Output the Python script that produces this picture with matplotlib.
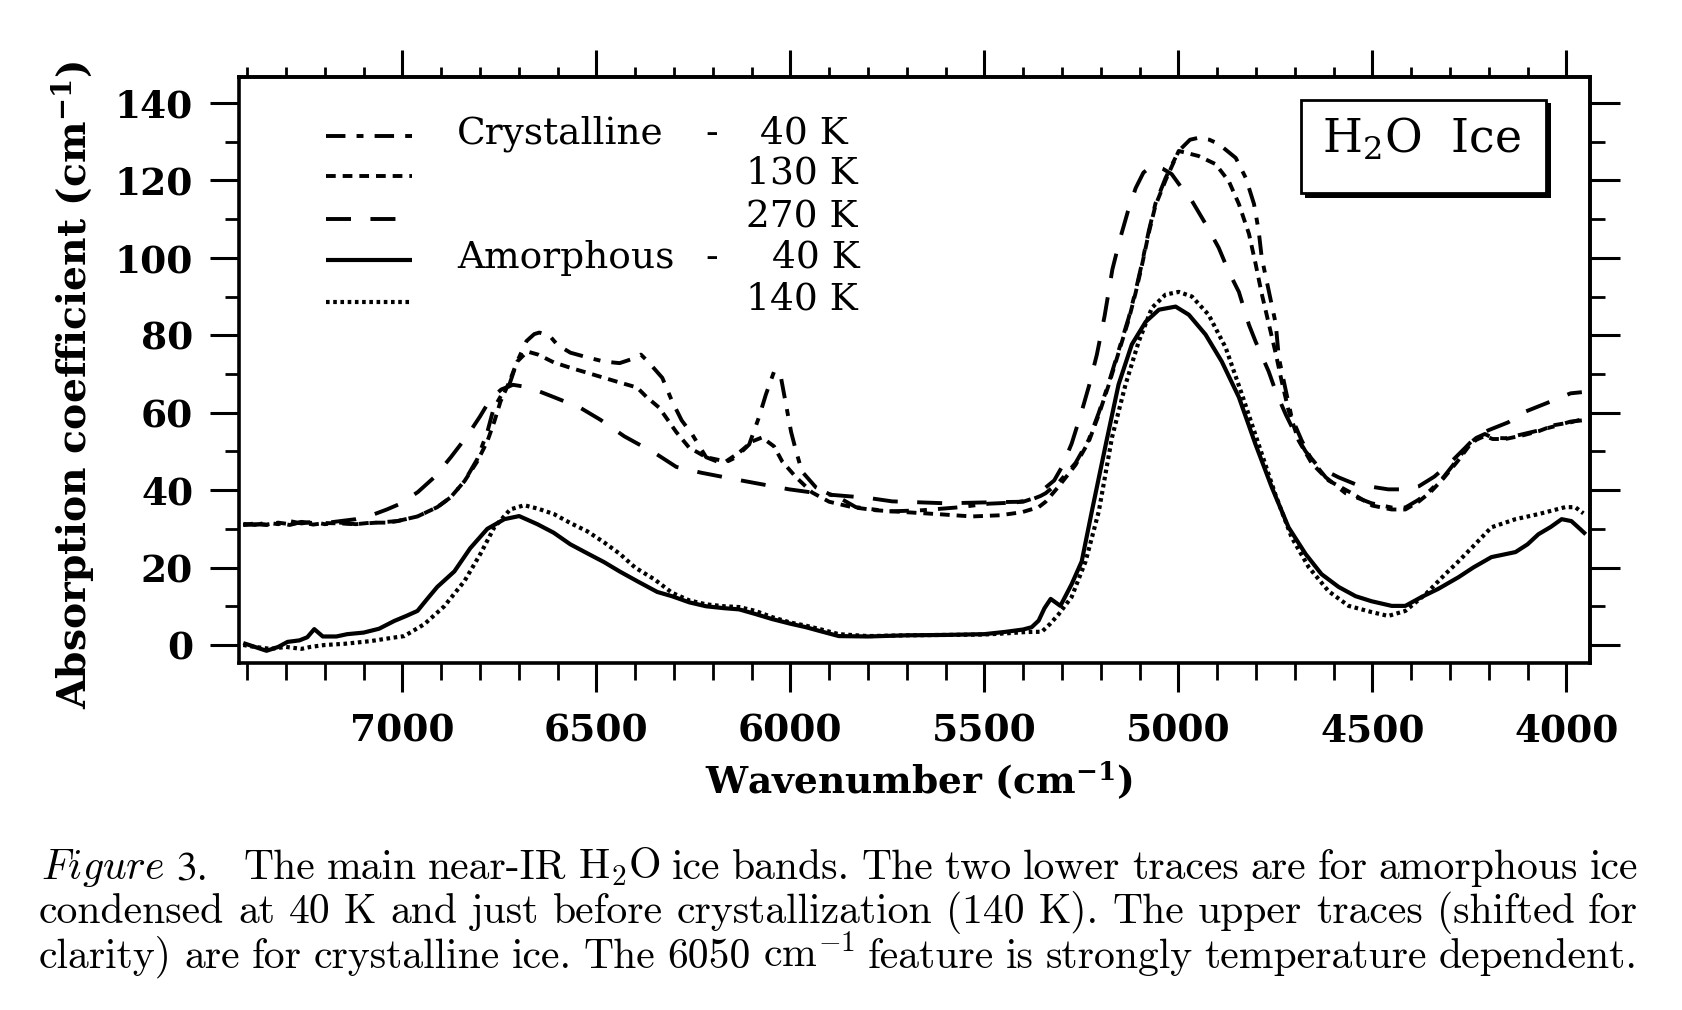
import numpy as np
import matplotlib
matplotlib.use('Agg')
import matplotlib.pyplot as plt
from matplotlib.lines import Line2D
from matplotlib.patches import Rectangle
from matplotlib.ticker import NullFormatter, FixedLocator

plt.rcParams['lines.scale_dashes'] = False

# ---------------- data ----------------
wn_c40 = [7410, 7380, 7350, 7320, 7290, 7260, 7230, 7200, 7160, 7120, 7080, 7040, 7013, 6961, 6910, 6876, 6840, 6807, 6781, 6765, 6745, 6725, 6705, 6680, 6660, 6647, 6620, 6600, 6567, 6520, 6480, 6440, 6410, 6385, 6365, 6330, 6305, 6280, 6253, 6217, 6184, 6160, 6140, 6106, 6081, 6063, 6042, 6024, 6011, 5998, 5985, 5970, 5934, 5900, 5875, 5831, 5746, 5661, 5573, 5488, 5420, 5380, 5355, 5342, 5308, 5265, 5231, 5205, 5180, 5154, 5128, 5110, 5094, 5076, 5059, 5033, 4999, 4970, 4948, 4920, 4896, 4852, 4826, 4805, 4793, 4785, 4767, 4749, 4741, 4723, 4708, 4682, 4656, 4620, 4569, 4502, 4450, 4415, 4381, 4350, 4317, 4280, 4250, 4232, 4210, 4190, 4157, 4110, 4072, 4030, 3989, 3960]
ab_c40 = [31.3, 31.0, 31.6, 31.2, 32.0, 31.4, 31.8, 31.2, 31.6, 31.2, 31.5, 31.8, 32.0, 33.2, 35.6, 38.1, 42.3, 48.0, 55.0, 61.0, 64.5, 67.0, 73.0, 78.5, 80.3, 80.7, 79.8, 77.5, 75.5, 74.2, 73.2, 72.8, 73.8, 75.0, 73.0, 69.0, 63.0, 58.0, 54.4, 48.5, 47.2, 47.5, 48.5, 51.8, 58.8, 64.7, 70.6, 69.0, 62.0, 55.0, 50.0, 44.8, 40.7, 39.0, 38.1, 35.6, 34.5, 34.8, 35.5, 36.5, 36.8, 37.5, 38.5, 39.2, 42.0, 47.0, 53.0, 60.0, 67.5, 76.0, 84.5, 91.5, 98.5, 107.0, 114.0, 120.6, 127.6, 130.5, 131.0, 130.5, 129.4, 125.8, 120.6, 113.9, 107.0, 100.0, 91.5, 83.0, 74.2, 65.7, 58.8, 52.8, 47.7, 43.3, 39.2, 36.6, 35.5, 35.5, 37.5, 40.0, 43.3, 48.0, 52.0, 53.5, 54.5, 53.5, 53.4, 54.5, 55.4, 56.5, 57.7, 58.0]

wn_c130 = [7410, 7380, 7350, 7320, 7290, 7260, 7230, 7200, 7160, 7120, 7080, 7040, 7013, 6961, 6910, 6876, 6840, 6807, 6781, 6763, 6747, 6724, 6704, 6678, 6650, 6610, 6567, 6520, 6480, 6440, 6395, 6370, 6338, 6294, 6261, 6217, 6166, 6132, 6098, 6073, 6042, 6021, 5985, 5944, 5900, 5841, 5780, 5702, 5620, 5532, 5460, 5403, 5360, 5342, 5308, 5265, 5231, 5205, 5180, 5154, 5128, 5110, 5094, 5076, 5059, 5033, 4999, 4948, 4904, 4870, 4844, 4818, 4801, 4785, 4767, 4749, 4734, 4716, 4690, 4656, 4613, 4553, 4500, 4450, 4415, 4381, 4350, 4317, 4280, 4250, 4232, 4210, 4190, 4157, 4110, 4072, 4030, 3989, 3960]
ab_c130 = [31.0, 31.4, 31.1, 31.6, 31.2, 31.7, 31.1, 31.5, 31.4, 31.2, 31.6, 31.6, 32.0, 33.2, 35.6, 38.1, 42.3, 47.4, 52.6, 57.7, 62.9, 68.0, 73.2, 75.8, 75.0, 73.0, 71.6, 70.2, 69.0, 67.8, 66.5, 64.0, 61.3, 55.0, 51.0, 48.5, 47.4, 49.7, 52.6, 53.6, 51.3, 47.4, 43.3, 39.4, 37.0, 35.6, 34.8, 34.3, 33.8, 33.2, 33.5, 34.3, 35.6, 37.0, 41.0, 46.5, 52.5, 59.5, 67.0, 75.5, 84.0, 91.0, 98.0, 106.5, 113.5, 120.0, 127.6, 126.3, 124.2, 119.8, 113.9, 106.2, 98.5, 90.7, 83.0, 75.3, 68.3, 60.6, 52.8, 46.9, 42.5, 39.2, 36.0, 35.0, 35.0, 37.0, 39.5, 43.0, 47.5, 51.5, 53.0, 54.0, 53.2, 53.2, 54.2, 55.2, 56.8, 57.5, 58.3]

wn_c270 = [7410, 7380, 7350, 7320, 7290, 7260, 7230, 7200, 7160, 7120, 7080, 7040, 7005, 6960, 6918, 6875, 6833, 6800, 6773, 6745, 6715, 6690, 6660, 6609, 6542, 6490, 6428, 6390, 6351, 6294, 6230, 6127, 6003, 5908, 5800, 5738, 5599, 5465, 5400, 5370, 5350, 5320, 5300, 5275, 5250, 5230, 5210, 5190, 5170, 5150, 5130, 5110, 5090, 5065, 5040, 5017, 4991, 4965, 4930, 4896, 4870, 4844, 4818, 4801, 4767, 4749, 4723, 4698, 4672, 4638, 4587, 4543, 4459, 4415, 4380, 4340, 4300, 4260, 4232, 4200, 4150, 4105, 4050, 3989, 3960]
ab_c270 = [31.0, 31.2, 31.0, 31.5, 31.0, 31.8, 31.5, 31.5, 32.0, 32.5, 33.5, 35.0, 36.5, 39.5, 43.3, 48.5, 54.0, 59.0, 63.5, 66.0, 67.2, 66.8, 66.0, 64.0, 61.3, 58.2, 53.9, 51.8, 49.7, 46.0, 44.5, 42.5, 40.2, 38.9, 38.0, 37.1, 36.6, 36.9, 37.0, 38.0, 40.0, 42.5, 46.0, 52.0, 60.0, 67.0, 75.0, 85.0, 97.0, 105.0, 112.0, 118.0, 122.0, 124.0, 123.0, 121.6, 118.0, 114.7, 108.8, 102.6, 96.4, 91.2, 82.7, 78.4, 70.6, 65.5, 59.5, 54.4, 50.0, 45.9, 43.3, 41.5, 40.2, 40.2, 41.0, 43.5, 47.0, 51.0, 53.9, 55.5, 57.5, 60.3, 62.5, 65.0, 65.3]

wn_a40 = [7410, 7380, 7350, 7320, 7296, 7265, 7245, 7227, 7205, 7170, 7142, 7100, 7060, 7021, 6990, 6961, 6935, 6910, 6866, 6825, 6781, 6737, 6699, 6652, 6610, 6567, 6520, 6480, 6440, 6395, 6343, 6305, 6260, 6217, 6170, 6132, 6090, 6047, 6000, 5960, 5920, 5875, 5800, 5700, 5600, 5500, 5445, 5400, 5378, 5360, 5345, 5329, 5304, 5275, 5249, 5223, 5187, 5154, 5120, 5084, 5050, 5007, 4973, 4930, 4888, 4844, 4801, 4759, 4716, 4672, 4631, 4587, 4543, 4502, 4450, 4415, 4373, 4330, 4278, 4240, 4193, 4131, 4100, 4072, 4040, 4012, 3987, 3965, 3950]
ab_a40 = [0.5, -0.5, -1.5, -0.5, 0.8, 1.2, 2.0, 4.1, 2.2, 2.2, 2.8, 3.2, 4.2, 6.2, 7.5, 8.8, 12.0, 15.0, 19.0, 25.0, 30.0, 32.5, 33.3, 31.2, 29.0, 26.0, 23.5, 21.4, 19.0, 16.5, 13.7, 12.6, 11.0, 10.0, 9.5, 9.2, 8.0, 6.7, 5.5, 4.6, 3.5, 2.3, 2.2, 2.5, 2.6, 2.8, 3.4, 4.0, 4.6, 6.3, 9.5, 11.9, 10.1, 15.7, 21.6, 34.5, 51.8, 67.3, 77.6, 83.5, 86.6, 87.4, 85.3, 80.2, 73.2, 64.0, 51.8, 40.7, 30.4, 23.5, 18.3, 15.0, 12.6, 11.3, 10.1, 10.1, 12.4, 14.5, 17.5, 20.0, 22.7, 24.0, 26.0, 28.6, 30.5, 32.5, 32.0, 30.0, 28.6]

wn_a140 = [7410, 7380, 7340, 7300, 7260, 7237, 7200, 7150, 7082, 7030, 6995, 6943, 6892, 6840, 6799, 6763, 6722, 6686, 6650, 6609, 6567, 6524, 6480, 6439, 6400, 6351, 6305, 6260, 6217, 6170, 6132, 6090, 6047, 6000, 5960, 5920, 5875, 5800, 5700, 5600, 5500, 5445, 5400, 5370, 5352, 5330, 5308, 5275, 5239, 5205, 5171, 5136, 5102, 5068, 5033, 4999, 4965, 4922, 4878, 4836, 4793, 4750, 4708, 4664, 4613, 4561, 4502, 4459, 4415, 4363, 4312, 4278, 4240, 4193, 4131, 4072, 4003, 3977, 3956]
ab_a140 = [0.0, -0.5, -1.0, -0.5, -1.0, -0.5, 0.0, 0.3, 1.0, 1.8, 2.3, 5.4, 10.0, 16.5, 23.5, 30.4, 35.0, 36.1, 35.2, 33.8, 31.5, 29.4, 26.5, 23.5, 20.0, 17.0, 13.5, 11.5, 10.5, 10.0, 9.8, 8.8, 7.2, 5.8, 5.0, 4.0, 2.8, 2.3, 2.5, 2.6, 2.7, 3.0, 3.3, 3.4, 3.4, 5.5, 8.0, 12.4, 21.6, 34.5, 53.6, 67.3, 78.4, 87.1, 90.5, 91.2, 90.0, 85.3, 76.8, 64.7, 51.8, 38.9, 27.8, 20.1, 13.9, 10.1, 8.5, 7.5, 8.8, 13.1, 18.3, 21.6, 25.5, 30.4, 32.5, 33.8, 35.6, 35.6, 34.0]

x_major = [7000, 6500, 6000, 5500, 5000, 4500, 4000]
x_labels = ['7000', '6500', '6000', '5500', '5000', '4500', '4000']
y_major = [0, 20, 40, 60, 80, 100, 120, 140]
y_labels = ['0', '20', '40', '60', '80', '100', '120', '140']

legend_left = ['Crystalline', '', '', 'Amorphous', '']
legend_temp = ['40 K', '130 K', '270 K', '40 K', '140 K']

# ---------------- styles ----------------
DASHDOT = (0, (14, 8, 5, 8))
SHORTDASH = (0, (7, 5))
LONGDASH = (0, (18, 14))
DOTTED = (0, (2.6, 2.6))
styles = [
    dict(ls=DASHDOT, lw=2.8),
    dict(ls=SHORTDASH, lw=2.8),
    dict(ls=LONGDASH, lw=2.8),
    dict(ls='-', lw=3.0),
    dict(ls=DOTTED, lw=3.0),
]

W, H = 1683, 1010
fig = plt.figure(figsize=(W / 100, H / 100), dpi=100)
fig.patch.set_facecolor('white')


def fx(px):
    return px / W


def fy(py):
    return 1 - py / H


ax = fig.add_axes([fx(239), fy(663), fx(1590) - fx(239), fy(77) - fy(663)])
ax.set_xlim(7421, 3939)
ax.set_ylim(-4.65, 146.7)

series = [(wn_c40, ab_c40), (wn_c130, ab_c130), (wn_c270, ab_c270),
          (wn_a40, ab_a40), (wn_a140, ab_a140)]
for (xs, ys), st in zip(series, styles):
    ax.plot(xs, ys, color='black', linestyle=st['ls'], lw=st['lw'],
            solid_capstyle='butt', dash_capstyle='butt')

for sp in ax.spines.values():
    sp.set_linewidth(2.6)

tick_font = dict(family='DejaVu Serif', weight='bold', size=27)
ax.xaxis.set_major_locator(FixedLocator(x_major))
ax.xaxis.set_minor_locator(FixedLocator(list(range(7400, 3999, -100))))
ax.yaxis.set_major_locator(FixedLocator(y_major))
ax.yaxis.set_minor_locator(FixedLocator(list(range(10, 140, 20))))
ax.set_xticklabels(x_labels, fontdict=tick_font)
ax.set_yticklabels(y_labels, fontdict=tick_font)
ax.tick_params(axis='x', which='major', direction='out', length=21, width=2.2, pad=15)
ax.tick_params(axis='x', which='minor', direction='out', length=12, width=2.0)
ax.tick_params(axis='y', which='major', direction='out', length=21, width=2.2, pad=12)
ax.tick_params(axis='y', which='minor', direction='out', length=10, width=2.0)

secx = ax.secondary_xaxis('top')
secx.xaxis.set_major_locator(FixedLocator(x_major))
secx.xaxis.set_minor_locator(FixedLocator(list(range(7400, 3999, -100))))
secx.xaxis.set_major_formatter(NullFormatter())
secx.tick_params(axis='x', which='major', direction='out', length=19.5, width=2.2)
secx.tick_params(axis='x', which='minor', direction='out', length=7, width=2.0)
secx.spines['top'].set_linewidth(2.6)

secy = ax.secondary_yaxis('right')
secy.yaxis.set_major_locator(FixedLocator(y_major))
secy.yaxis.set_minor_locator(FixedLocator(list(range(10, 140, 20))))
secy.yaxis.set_major_formatter(NullFormatter())
secy.tick_params(axis='y', which='major', direction='out', length=21.5, width=2.2)
secy.tick_params(axis='y', which='minor', direction='out', length=11, width=2.0)
secy.spines['right'].set_linewidth(2.6)

# axis labels
fig.text(fx(919), fy(781), 'Wavenumber (cm$^{\\mathbf{-1}}$)', ha='center', va='center',
         family='DejaVu Serif', weight='bold', size=27, math_fontfamily='dejavuserif')
fig.text(fx(73), fy(385), 'Absorption coefficient (cm$^{\\mathbf{-1}}$)', ha='center', va='center',
         rotation=90, family='DejaVu Serif', weight='bold', size=28.3, math_fontfamily='dejavuserif')

# legend
rows_y = [136, 176, 219, 260, 302]
temp_right = [848, 858, 858, 860, 858]
for i, st in enumerate(styles):
    y = rows_y[i]
    fig.add_artist(Line2D([fx(326), fx(412)], [fy(y), fy(y)], transform=fig.transFigure,
                          color='black', linestyle=st['ls'], lw=st['lw'],
                          solid_capstyle='butt', dash_capstyle='butt'))
    if legend_left[i]:
        fig.text(fx(457), fy(y + 8), legend_left[i], ha='left', va='baseline',
                 family='DejaVu Serif', size=27)
        fig.text(fx(712), fy(y + 8), '-', ha='center', va='baseline',
                 family='DejaVu Serif', size=27)
    fig.text(fx(temp_right[i]), fy(y + 8), legend_temp[i], ha='right', va='baseline',
             family='DejaVu Serif', size=27)

# H2O Ice box
fig.add_artist(Rectangle((fx(1305), fy(198)), fx(1551) - fx(1305), fy(103) - fy(198),
                         transform=fig.transFigure, facecolor='black', edgecolor='none', zorder=5))
fig.add_artist(Rectangle((fx(1301), fy(193)), fx(1546) - fx(1301), fy(100) - fy(193),
                         transform=fig.transFigure, facecolor='white', edgecolor='black',
                         lw=2.0, zorder=6))
fig.text(fx(1322), fy(153), 'H$_2$O  Ice', ha='left', va='baseline', family='DejaVu Serif',
         size=33, math_fontfamily='dejavuserif', zorder=7)

# caption, justified word by word
renderer = fig.canvas.get_renderer()
CS = 30
cm = dict(family='cmr10', size=CS, math_fontfamily='cm')
cap_lines = [
    ([(r'$\mathit{Figure}$', cm), (r'$\mathit{3.}$', dict(size=CS, math_fontfamily='stix')),
      ('The', cm), ('main', cm), ('near-IR', cm), (r'$\mathrm{H_2O}$', cm), ('ice', cm),
      ('bands.', cm), ('The', cm), ('two', cm), ('lower', cm), ('traces', cm), ('are', cm),
      ('for', cm), ('amorphous', cm), ('ice', cm)],
     [1, 3.2] + [1] * 13, 879, 41),
    ([(w, cm) for w in 'condensed at 40 K and just before crystallization (140 K). The upper traces (shifted for'.split()],
     None, 923, 39),
    ([(w, cm) for w in 'clarity) are for crystalline ice. The 6050'.split()] + [(r'$\mathrm{cm}^{-1}$', cm)] +
     [(w, cm) for w in 'feature is strongly temperature dependent.'.split()],
     None, 968, 39),
]
x_right = 1638
for tokens, weights, yb, x0 in cap_lines:
    texts, widths = [], []
    for tok, kw in tokens:
        t = fig.text(0, fy(yb), tok, ha='left', va='baseline', **kw)
        widths.append(t.get_window_extent(renderer).width)
        texts.append(t)
    n = len(texts)
    if weights is None:
        weights = [1] * (n - 1)
    gap = (x_right - x0 - sum(widths)) / sum(weights)
    x = x0
    for i, t in enumerate(texts):
        t.set_x(fx(x))
        x += widths[i] + (gap * weights[i] if i < n - 1 else 0)

fig.savefig('out.png', dpi=100, facecolor='white')
